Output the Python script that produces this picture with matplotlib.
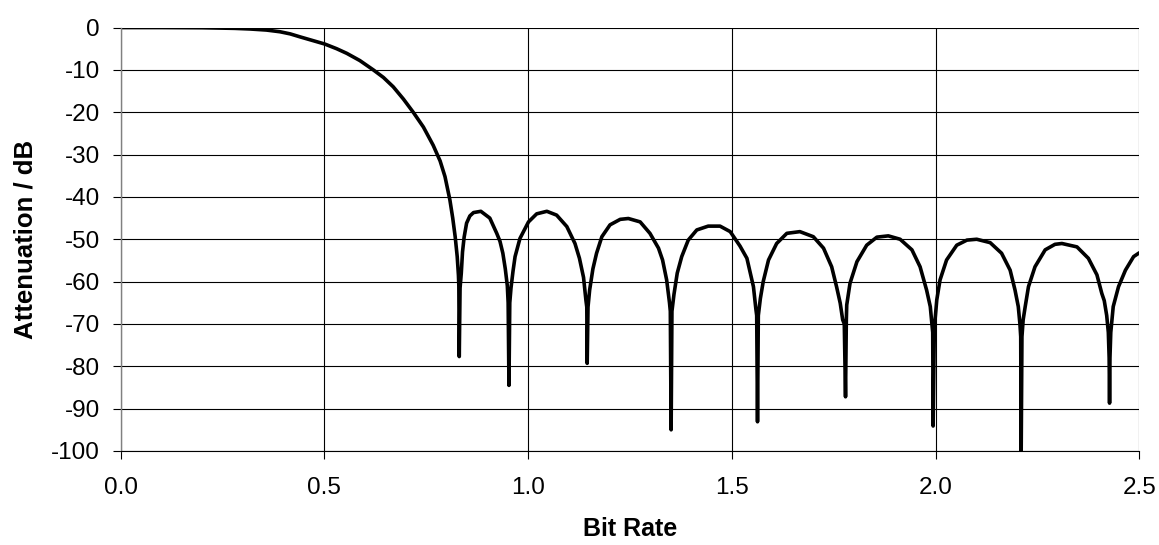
import matplotlib
matplotlib.use("Agg")
import matplotlib.pyplot as plt

# Read-off values of the attenuation curve (Bit Rate, dB)
bit_rate = [
    0.0, 0.1, 0.2, 0.28, 0.318, 0.358, 0.391, 0.416, 0.440, 0.465, 0.501, 0.530,
    0.555, 0.587, 0.620, 0.645, 0.669, 0.694, 0.718, 0.743, 0.767, 0.784, 0.796,
    0.808, 0.815, 0.821, 0.826, 0.829, 0.830, 0.831, 0.833, 0.836, 0.839, 0.843,
    0.849, 0.857, 0.866, 0.884, 0.906, 0.923, 0.931, 0.938, 0.944, 0.949, 0.951,
    0.953, 0.955, 0.958, 0.963, 0.968, 0.980, 1.001, 1.021, 1.046, 1.070, 1.095,
    1.115, 1.126, 1.136, 1.142, 1.144, 1.145, 1.147, 1.151, 1.159, 1.168, 1.181,
    1.201, 1.226, 1.246, 1.275, 1.299, 1.320, 1.330, 1.340, 1.347, 1.349, 1.351,
    1.353, 1.358, 1.366, 1.377, 1.393, 1.414, 1.442, 1.471, 1.496, 1.520, 1.537,
    1.553, 1.559, 1.561, 1.563, 1.565, 1.570, 1.577, 1.590, 1.610, 1.635, 1.667,
    1.700, 1.725, 1.745, 1.757, 1.766, 1.772, 1.776, 1.779, 1.781, 1.782, 1.790,
    1.807, 1.831, 1.856, 1.884, 1.913, 1.942, 1.962, 1.978, 1.987, 1.991, 1.993,
    1.994, 1.997, 2.003, 2.011, 2.027, 2.052, 2.077, 2.101, 2.134, 2.162, 2.183,
    2.195, 2.203, 2.207, 2.209, 2.210, 2.212, 2.215, 2.220, 2.228, 2.244, 2.269,
    2.293, 2.310, 2.347, 2.375, 2.396, 2.408, 2.414, 2.420, 2.424, 2.426, 2.427,
    2.428, 2.430, 2.436, 2.449, 2.466, 2.486, 2.5]
attenuation = [
    0.0, 0.0, -0.05, -0.2, -0.35, -0.6, -1.0, -1.5, -2.2, -2.9, -3.9, -5.0,
    -6.1, -7.8, -10.0, -11.8, -14.0, -16.9, -20.0, -23.5, -27.8, -31.5, -35.2,
    -40.7, -45.0, -49.4, -54.1, -58.5, -61.0, -77.7, -61.5, -58.0, -53.0, -49.5,
    -46.2, -44.5, -43.7, -43.4, -45.0, -48.6, -50.5, -53.3, -57.0, -61.0, -65.0,
    -84.5, -65.0, -61.5, -57.5, -54.1, -49.8, -45.9, -44.0, -43.4, -44.3, -47.0,
    -51.0, -54.5, -59.0, -64.5, -66.0, -79.3, -66.0, -62.0, -57.0, -53.3, -49.4,
    -46.6, -45.3, -45.1, -45.9, -48.6, -52.1, -54.9, -59.6, -65.0, -67.0, -95.0,
    -67.0, -63.0, -58.0, -54.1, -50.2, -47.8, -46.9, -46.9, -48.2, -51.6, -54.5,
    -61.2, -66.5, -68.0, -93.1, -68.0, -64.0, -60.0, -54.9, -51.0, -48.6, -48.2,
    -49.4, -52.1, -56.5, -61.2, -65.1, -69.0, -70.0, -87.2, -69.0, -65.5, -60.4,
    -55.3, -51.4, -49.5, -49.2, -50.0, -52.5, -56.5, -62.0, -65.9, -70.0, -72.0,
    -94.1, -71.0, -64.3, -59.6, -54.9, -51.4, -50.2, -50.0, -50.8, -53.3, -57.3,
    -62.0, -65.9, -70.0, -73.0, -102.0, -73.0, -69.0, -65.9, -61.2, -56.5, -52.5,
    -51.2, -51.0, -51.8, -54.5, -58.4, -62.8, -64.5, -68.0, -72.0, -78.0, -88.7,
    -78.0, -72.0, -65.9, -61.2, -57.3, -54.1, -53.2]

x_ticks = [0.0, 0.5, 1.0, 1.5, 2.0, 2.5]
x_tick_labels = ["0.0", "0.5", "1.0", "1.5", "2.0", "2.5"]
y_ticks = [0, -10, -20, -30, -40, -50, -60, -70, -80, -90, -100]

plt.rcParams['font.family'] = ['Liberation Sans', 'DejaVu Sans']

fig = plt.figure(figsize=(11.59, 5.45), dpi=100)
ax = fig.add_axes([0.1041, 0.1725, 0.983 - 0.1041, 0.9495 - 0.1725])

ax.plot(bit_rate, attenuation, color='black', linewidth=2.6,
        solid_joinstyle='round', solid_capstyle='round')

ax.set_xlim(0, 2.5)
ax.set_ylim(-100, 0)
ax.set_xticks(x_ticks)
ax.set_xticklabels(x_tick_labels)
ax.set_yticks(y_ticks)
ax.set_yticklabels([str(v) for v in y_ticks])

ax.grid(True, color='black', linewidth=0.8)
ax.set_axisbelow(True)

for side in ['top', 'right']:
    ax.spines[side].set_visible(False)
ax.spines['left'].set_color('#808080')
ax.spines['left'].set_linewidth(1.0)
ax.spines['bottom'].set_color('black')
ax.spines['bottom'].set_linewidth(0.8)

ax.tick_params(axis='y', direction='out', length=5.5, width=0.8, color='black',
               labelsize=17.5, pad=9.5)
ax.tick_params(axis='x', direction='out', length=5.5, width=0.8, color='black',
               labelsize=17.5, pad=13)

ax.set_xlabel('Bit Rate', fontsize=18, fontweight='bold', labelpad=13)
ax.set_ylabel('Attenuation / dB', fontsize=18.5, fontweight='bold', labelpad=10)

fig.savefig('out.png', dpi=100)
